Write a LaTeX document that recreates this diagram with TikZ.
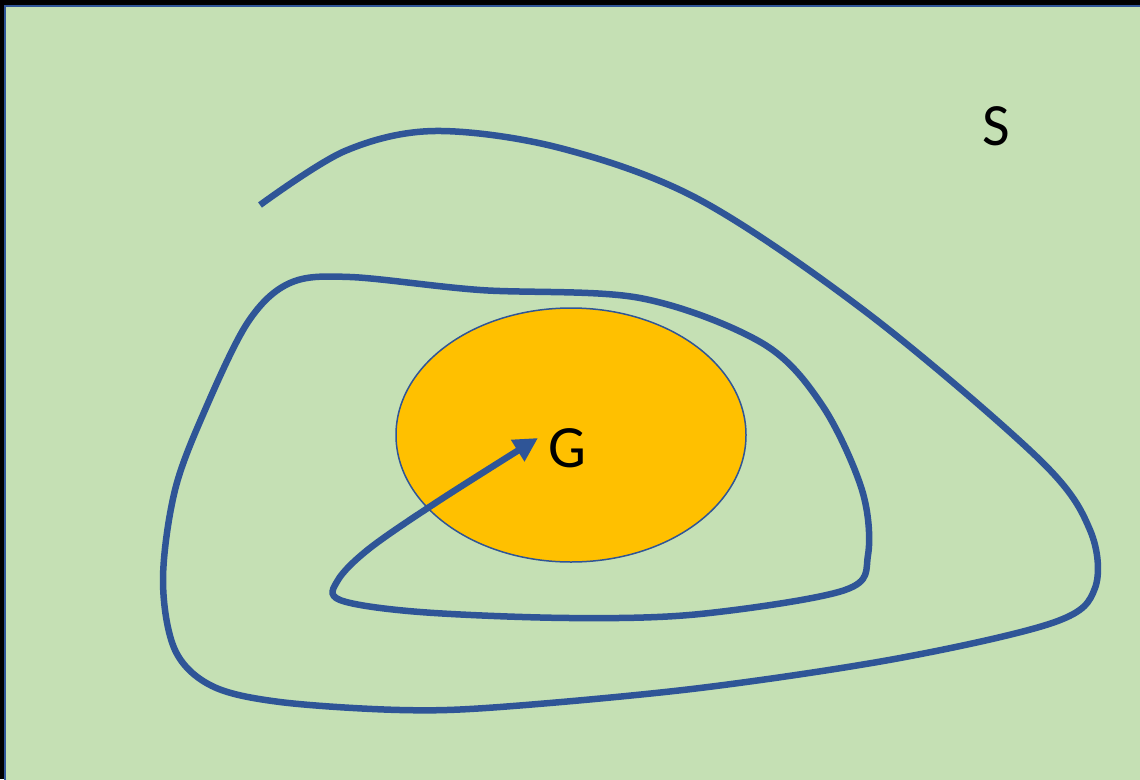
\documentclass[tikz,border=0pt]{standalone}
\usepackage{fontspec}
\setmainfont{Carlito}
\usepackage{tikz}
\usetikzlibrary{arrows.meta, shapes.geometric, positioning}
\definecolor{fieldgreen}{RGB}{197, 224, 180}
\definecolor{goalorange}{RGB}{255, 192, 0}
\definecolor{pathblue}{RGB}{47, 85, 151}

\begin{document}
\begin{tikzpicture}[x=1pt, y=-1pt,
    goal/.style={ellipse, draw=pathblue, line width=1.5pt, fill=goalorange,
                 minimum width=350pt, minimum height=254pt, inner sep=0pt},
    tag/.style={font=\fontsize{60}{66}\selectfont, text=black, inner sep=0pt},
    route/.style={draw=pathblue, line width=6.5pt, line cap=butt}
]
    \useasboundingbox (0,0) rectangle (1140,779);
    \fill[black] (0,0) rectangle (1140,779);
    \begin{scope}
        \clip (0,0) rectangle (1140,779);
        \draw[pathblue, line width=2.5pt, fill=fieldgreen] (5,6) rectangle (1160,800);
    \end{scope}

    \node[goal] (goalset) at (571,435) {};
    \node[tag] (glabel) at (567,448) {G};
    \node[tag] (slabel) at (996,126) {S};

    % spiral towards the goal
    \coordinate (start) at (260,205);
    \coordinate (finish) at (538,438);
    \draw[route, -{Triangle[length=24pt, width=24pt]}]
        plot[smooth, tension=0.55] coordinates {
            (start) (345,151) (435,131) (560,148) (700,200) (870,315)
            (1040,460) (1090,530) (1095,588) (1055,622) (900,658)
            (700,688) (500,707) (400,710) (280,702) (212,686)
            (175,650) (163,580) (175,490) (205,410) (248,322)
            (290,283) (350,277) (480,290) (640,298) (762,343)
            (822,405) (862,490) (868,555) (845,590) (700,614)
            (570,618) (420,612) (340,600) (338,580) (370,548)
            (440,500) (finish)
        };
\end{tikzpicture}
\end{document}
